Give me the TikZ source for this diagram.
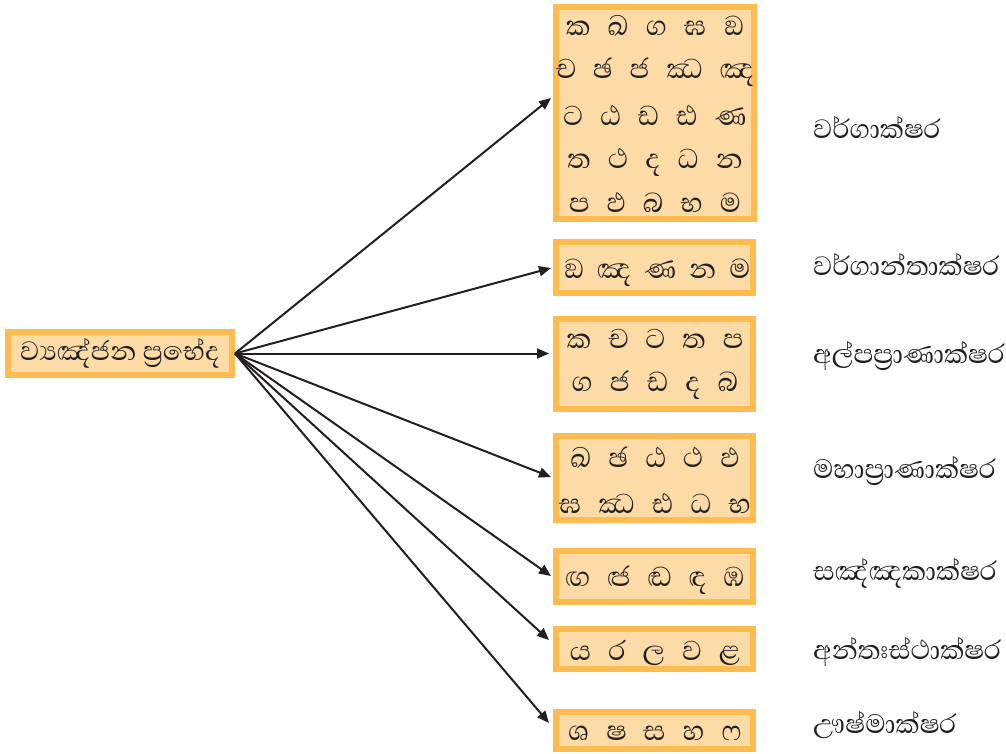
\documentclass[tikz,border=0pt]{standalone}
\usepackage{fontspec}
\newfontfamily\sinhfont[Script=Sinhala]{Abhaya Libre}
\usetikzlibrary{arrows.meta}
\definecolor{boxedge}{RGB}{253,187,80}
\definecolor{boxfill}{RGB}{253,219,166}
\definecolor{ink}{RGB}{35,31,32}
\newcommand\rowfont{\sinhfont\fontsize{35}{40}\selectfont\spaceskip 17pt\relax}
\newcommand\rowfontn{\sinhfont\fontsize{35}{40}\selectfont\spaceskip 13pt\relax}
\newcommand\labfont{\sinhfont\fontsize{34}{40}\selectfont}
\begin{document}
\begin{tikzpicture}[x=1pt,y=-1pt,
  cbox/.style={draw=boxedge, fill=boxfill, line width=6pt, rectangle, inner sep=0pt},
  row/.style={font=\rowfont, anchor=base, text=ink, inner sep=0pt},
  rown/.style={font=\rowfontn, anchor=base, text=ink, inner sep=0pt},
  lab/.style={font=\labfont, anchor=base west, text=ink, inner sep=0pt},
  arr/.style={draw=ink, line width=2pt, -{Triangle[length=12pt,width=10pt]}}]
\useasboundingbox (0,0) rectangle (1006,753);
% boxes
\node[cbox, minimum width=224pt, minimum height=43pt] (L) at (120,353.5) {};
\node[cbox, minimum width=198pt, minimum height=212pt] (B1) at (655,113) {};
\node[cbox, minimum width=197pt, minimum height=51pt] (B2) at (654.5,267.5) {};
\node[cbox, minimum width=197pt, minimum height=90pt] (B3) at (654.5,364) {};
\node[cbox, minimum width=197pt, minimum height=84pt] (B4) at (654.5,478) {};
\node[cbox, minimum width=197pt, minimum height=51pt] (B5) at (654.5,576.5) {};
\node[cbox, minimum width=197pt, minimum height=40pt] (B6) at (654.5,649) {};
\node[cbox, minimum width=197pt, minimum height=37pt] (B7) at (654.5,730.5) {};
% texts in boxes
\node[lab, anchor=base] (Lt) at (120,360) {ව්^^^^200dයඤ්ජන ප්^^^^200dරභේද};
\node[row] (r11) at (655,35) {ක ඛ ග ඝ ඞ};
\node[row] (r12) at (655,78) {ච ඡ ජ ඣ ඤ};
\node[row] (r13) at (655,125) {ට ඨ ඩ ඪ ණ};
\node[row] (r14) at (655,168) {ත ථ ද ධ න};
\node[row] (r15) at (655,212) {ප ඵ බ භ ම};
\node[rown] (r21) at (657,278) {ඞ ඤ ණ න ම};
\node[row] (r31) at (655,348) {ක ච ට ත ප};
\node[row] (r32) at (655,391) {ග ජ ඩ ද බ};
\node[row] (r41) at (655,467) {ඛ ඡ ඨ ථ ඵ};
\node[row] (r42) at (655,513) {ඝ ඣ ඪ ධ භ};
\node[row] (r51) at (655,586) {ඟ ඦ ඬ ඳ ඹ};
\node[row] (r61) at (655,660) {ය ර ල ව ළ};
\node[row] (r71) at (655,740) {ශ ෂ ස හ ෆ};
% labels
\node[lab] (l1) at (813,138) {වර්ගාක්ෂර};
\node[lab] (l2) at (813,275) {වර්ගාන්තාක්ෂර};
\node[lab] (l3) at (813,363) {අල්පප්^^^^200dරාණාක්ෂර};
\node[lab] (l4) at (813,478) {මහාප්^^^^200dරාණාක්ෂර};
\node[lab] (l5) at (813,580) {සඤ්ඤකාක්ෂර};
\node[lab] (l6) at (813,659) {අන්තඃස්ථාක්ෂර};
\node[lab] (l7) at (813,733) {ඌෂ්මාක්ෂර};
% arrow tips
\coordinate (t1) at (551,98);
\coordinate (t2) at (551,268);
\coordinate (t3) at (549,353.5);
\coordinate (t4) at (551,477);
\coordinate (t5) at (551,576);
\coordinate (t6) at (549,640);
\coordinate (t7) at (549,723);
\foreach \t in {t1,t2,t3,t4,t5,t6,t7} \draw[arr] (L.east) -- (\t);
\end{tikzpicture}
\end{document}
